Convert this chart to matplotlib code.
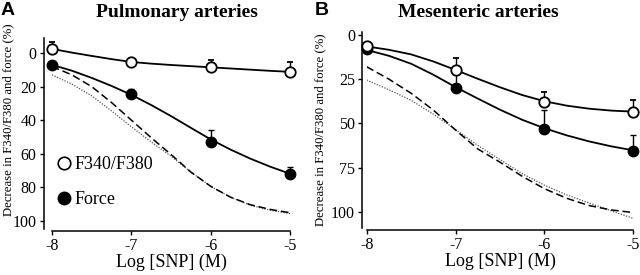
import numpy as np
import matplotlib
matplotlib.use('Agg')
import matplotlib.pyplot as plt
from matplotlib.lines import Line2D

plt.rcParams['font.family'] = 'Liberation Serif'

# data points (log SNP)
x_pts = [-8, -7, -6, -5]
a_ratio = [-2.5, 5.6, 8.2, 11.2]
a_ratio_err = [4, 2, 4, 6]
a_force = [7.2, 24.7, 53, 72.2]
a_force_err = [1, 3, 7, 4.5]
b_ratio = [6.5, 20, 37.7, 43.4]
b_ratio_err = [2, 6.8, 5.2, 6.6]
b_force = [8, 30.2, 53.2, 65.5]
b_force_err = [1, 8, 10.8, 9]

# fitted curves
x_curve = [-8, -7.75, -7.5, -7.25, -7, -6.75, -6.5, -6.25, -6, -5.75, -5.5, -5.25, -5]
a_ratio_fit = [-2.5, -0.3, 1.7, 3.6, 5.3, 6.3, 7.1, 7.8, 8.5, 9.2, 9.9, 10.6, 11.2]
a_force_fit = [7, 10.5, 14.8, 19.6, 24.9, 31.0, 37.6, 44.6, 51.5, 57.6, 63.0, 67.8, 72]
a_dashed = [8, 13, 20, 29.5, 40, 50.5, 60.5, 71, 79.5, 86, 90.5, 93.3, 95.3]
a_dotted = [13, 18.5, 25.5, 34.5, 44, 53, 61.5, 71, 79.5, 86, 90.8, 93.8, 95.8]
b_ratio_fit = [6.5, 8.4, 11, 15, 19.8, 24.8, 29.6, 34, 37.5, 40, 41.7, 42.8, 43.4]
b_force_fit = [8.5, 11.8, 16.3, 22.5, 29.5, 36, 42.3, 48, 52.8, 56.8, 60.2, 63, 65.3]
b_dashed = [18, 25, 33, 42.5, 53.8, 64.5, 72, 80, 87, 92.4, 96.5, 99, 100.5]
b_dotted = [25.5, 31, 37, 44.8, 53.5, 62.5, 70.5, 78.5, 85, 90.5, 95, 99.5, 103.8]

W, H = 640, 275
fig = plt.figure(figsize=(6.4, 2.75), dpi=100)

def px_axes(x0, x1, y0, y1):
    return fig.add_axes([x0 / W, 1 - y1 / H, (x1 - x0) / W, (y1 - y0) / H])

def draw_panel(ax, ratio, rerr, force, ferr, rfit, ffit, dash, dot, ylim, yticks, left_off):
    ax.plot(x_curve, dot, color='#555555', ls=(0, (1, 1.2)), lw=0.9)
    ax.plot(x_curve, dash, color='black', ls=(0, (5, 2.5)), lw=1.1)
    ax.plot(x_curve, rfit, color='black', lw=1.3)
    ax.plot(x_curve, ffit, color='black', lw=1.3)
    z = np.zeros(len(x_pts))
    for art in [ax.errorbar(x_pts, ratio, yerr=[rerr, z], fmt='o', ms=7.5, mfc='white', mec='black',
                            mew=1.3, ecolor='black', elinewidth=1.0, capsize=2.5, zorder=5),
                ax.errorbar(x_pts, force, yerr=[ferr, z], fmt='o', ms=7.5, mfc='black', mec='black',
                            ecolor='black', elinewidth=1.0, capsize=2.5, zorder=4)]:
        for child in art.get_children():
            child.set_clip_on(False)
    ax.set_xlim(-8, -5)
    ax.set_ylim(*ylim)
    ax.set_yticks(yticks)
    ax.set_xticks([-8, -7, -6, -5])
    ax.set_xticklabels(['-8', '-7', '-6', '-5'])
    for s in ['top', 'right']:
        ax.spines[s].set_visible(False)
    ax.spines['left'].set_position(('outward', left_off))
    ax.spines['bottom'].set_position(('outward', 1.5))
    ax.tick_params(direction='out', length=3, width=1, labelsize=11.5, pad=2)
    ax.spines['left'].set_linewidth(1.1)
    ax.spines['bottom'].set_linewidth(1.1)
    ax.set_xlabel('Log [SNP] (M)', fontsize=13, labelpad=0)
    ax.patch.set_alpha(0)

axA = px_axes(52, 290, 38, 229)
draw_panel(axA, a_ratio, a_ratio_err, a_force, a_force_err, a_ratio_fit, a_force_fit,
           a_dashed, a_dotted, (105, -9), [0, 20, 40, 60, 80, 100], 6)

axB = px_axes(366.7, 633.3, 32.3, 227.6)
draw_panel(axB, b_ratio, b_ratio_err, b_force, b_force_err, b_ratio_fit, b_force_fit,
           b_dashed, b_dotted, (109, -1.5), [0, 25, 50, 75, 100], 3.5)

ylab = 'Decrease in F340/F380 and force (%)'
fig.text(8 / W, 1 - 120 / H, ylab, rotation=90, ha='center', va='center', fontsize=9.2)
fig.text(320 / W, 1 - 130 / H, ylab, rotation=90, ha='center', va='center', fontsize=9.2)

fig.text(177 / W, 1 - 17 / H, 'Pulmonary arteries', fontsize=14, fontweight='bold',
         ha='center', va='baseline')
fig.text(478 / W, 1 - 17 / H, 'Mesenteric arteries', fontsize=14, fontweight='bold',
         ha='center', va='baseline')

handles = [Line2D([], [], ls='none', marker='o', ms=9, mfc='white', mec='black', mew=1.2),
           Line2D([], [], ls='none', marker='o', ms=9, mfc='black', mec='black')]
axA.legend(handles, ['F340/F380', 'Force'], loc='lower left', bbox_to_anchor=(-0.04, 0.025),
           frameon=False, fontsize=13, handlelength=0.6, handletextpad=0.3, labelspacing=1.0)

fig.text(1 / W, 1 - 2 / H, 'A', fontsize=14, fontweight='bold', family='Liberation Sans', va='top')
fig.text(315 / W, 1 - 2 / H, 'B', fontsize=14, fontweight='bold', family='Liberation Sans', va='top')

fig.savefig('out.png', dpi=100)
